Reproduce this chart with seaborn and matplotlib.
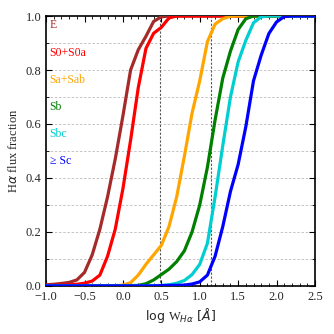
import numpy as np
import pandas as pd
import matplotlib
matplotlib.use("Agg")
import matplotlib.pyplot as plt
import seaborn as sns
from matplotlib.ticker import MultipleLocator

# ---- data ----
log_w = [-1.0, -0.9, -0.8, -0.7, -0.6, -0.5, -0.4, -0.3, -0.2, -0.1,
         0.0, 0.1, 0.2, 0.3, 0.4, 0.5, 0.6, 0.7, 0.8, 0.9,
         1.0, 1.1, 1.2, 1.3, 1.4, 1.5, 1.6, 1.7, 1.8, 1.9,
         2.0, 2.1, 2.2, 2.3, 2.4, 2.5]

frac_E = [0.004, 0.006, 0.009, 0.013, 0.022, 0.05, 0.115, 0.21, 0.33, 0.47,
          0.63, 0.80, 0.875, 0.925, 0.98, 0.997, 1.0, 1.0, 1.0, 1.0,
          1.0, 1.0, 1.0, 1.0, 1.0, 1.0, 1.0, 1.0, 1.0, 1.0,
          1.0, 1.0, 1.0, 1.0, 1.0, 1.0]
frac_S0 = [0.002, 0.002, 0.003, 0.004, 0.006, 0.01, 0.018, 0.04, 0.11, 0.21,
           0.36, 0.54, 0.735, 0.88, 0.936, 0.958, 0.993, 1.0, 1.0, 1.0,
           1.0, 1.0, 1.0, 1.0, 1.0, 1.0, 1.0, 1.0, 1.0, 1.0,
           1.0, 1.0, 1.0, 1.0, 1.0, 1.0]
frac_Sa = [0.0, 0.0, 0.0, 0.0, 0.0, 0.0, 0.0, 0.0, 0.001, 0.001,
           0.003, 0.012, 0.04, 0.08, 0.115, 0.15, 0.22, 0.33, 0.48, 0.64,
           0.76, 0.905, 0.97, 0.99, 0.999, 1.0, 1.0, 1.0, 1.0, 1.0,
           1.0, 1.0, 1.0, 1.0, 1.0, 1.0]
frac_Sb = [0.0, 0.0, 0.0, 0.0, 0.0, 0.0, 0.0, 0.0, 0.0, 0.0,
           0.0, 0.001, 0.002, 0.008, 0.022, 0.042, 0.062, 0.09, 0.13, 0.20,
           0.30, 0.44, 0.615, 0.77, 0.87, 0.95, 0.99, 1.0, 1.0, 1.0,
           1.0, 1.0, 1.0, 1.0, 1.0, 1.0]
frac_Sbc = [0.0, 0.0, 0.0, 0.0, 0.0, 0.0, 0.0, 0.0, 0.0, 0.0,
            0.0, 0.0, 0.0, 0.0, 0.001, 0.002, 0.004, 0.01, 0.02, 0.042,
            0.08, 0.158, 0.33, 0.52, 0.70, 0.83, 0.91, 0.975, 0.997, 1.0,
            1.0, 1.0, 1.0, 1.0, 1.0, 1.0]
frac_Sc = [0.0, 0.0, 0.0, 0.0, 0.0, 0.0, 0.0, 0.0, 0.0, 0.0,
           0.0, 0.0, 0.0, 0.0, 0.0, 0.001, 0.002, 0.002, 0.003, 0.007,
           0.015, 0.04, 0.11, 0.22, 0.35, 0.45, 0.59, 0.76, 0.855, 0.935,
           0.978, 0.998, 1.0, 1.0, 1.0, 1.0]

types = ["E", "S0+S0a", "Sa+Sab", "Sb", "Sbc", "≥ Sc"]
series = [frac_E, frac_S0, frac_Sa, frac_Sb, frac_Sbc, frac_Sc]
colors = ["#A52A2A", "#FF0000", "#FFA500", "#008000", "#00CED1", "#0000FF"]
label_y = [0.967, 0.863, 0.763, 0.663, 0.563, 0.463]
vlines_x = [0.477, 1.146]

df = pd.DataFrame({
    "logW": np.concatenate([log_w] * len(types)),
    "frac": np.concatenate(series),
    "type": np.repeat(types, len(log_w)),
})

sns.set_style("ticks")
plt.rcParams["mathtext.fontset"] = "custom"
plt.rcParams["mathtext.rm"] = "Liberation Serif"
plt.rcParams["mathtext.it"] = "DejaVu Sans:italic"
plt.rcParams["mathtext.bf"] = "Liberation Serif:bold"
plt.rcParams["font.family"] = ["Liberation Serif", "DejaVu Serif"]

fig = plt.figure(figsize=(3.34, 3.34), dpi=100)
ax = fig.add_axes([0.138, 0.144, 0.805, 0.808])

for yv in np.arange(0.1, 1.0, 0.1):
    ax.axhline(yv, color="#C4C4C4", lw=0.7, ls=(0, (2.5, 1.8)), zorder=0)
for xv in vlines_x:
    ax.axvline(xv, color="#555555", lw=0.8, ls=(0, (2, 1.5)), zorder=1)

sns.lineplot(data=df, x="logW", y="frac", hue="type", hue_order=types,
             palette=colors, lw=2.3, legend=False, ax=ax, zorder=3)

ax.set_xlim(-1.0, 2.5)
ax.set_ylim(0.0, 1.0)
ax.xaxis.set_major_locator(MultipleLocator(0.5))
ax.xaxis.set_minor_locator(MultipleLocator(0.1))
ax.yaxis.set_major_locator(MultipleLocator(0.2))
ax.yaxis.set_minor_locator(MultipleLocator(0.1))
ax.tick_params(which="both", direction="in", top=True, right=True,
               labelsize=9, color="black")
ax.tick_params(which="major", length=4, width=0.8)
ax.tick_params(which="minor", length=2, width=0.6)
for lab in ax.get_xticklabels() + ax.get_yticklabels():
    lab.set_fontfamily(["Liberation Serif", "DejaVu Serif"])
for sp in ax.spines.values():
    sp.set_linewidth(1.2)
    sp.set_color("black")

ax.set_xlabel(r"log $\mathrm{W}_{H\alpha}$ [$Å$]", fontsize=9,
              fontfamily="DejaVu Sans", labelpad=2)
ax.set_ylabel(r"H$\alpha$ flux fraction", fontsize=9, labelpad=4)

for t, c, yv in zip(types, colors, label_y):
    ax.text(0.013, yv, t, color=c, fontsize=8.5, va="center", ha="left",
            transform=ax.get_yaxis_transform())

fig.savefig("out.png", dpi=100)
